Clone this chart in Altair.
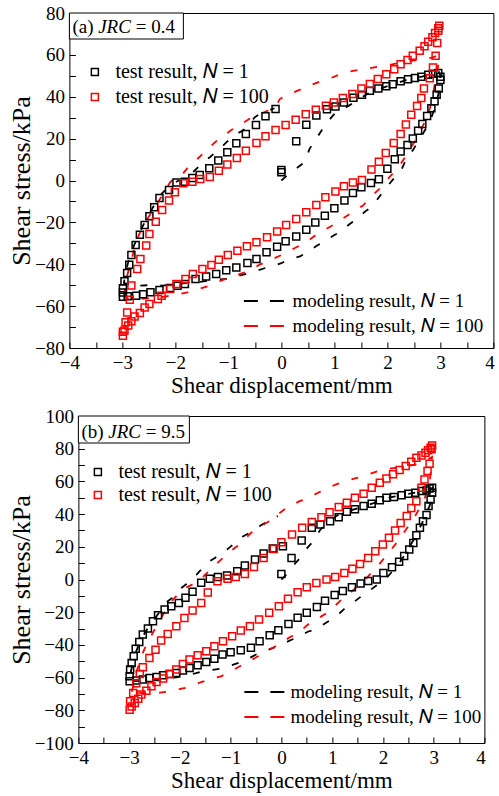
import altair as alt
import pandas as pd

FONT = "Liberation Serif"
BLACK = "#000000"
RED = "#ff0000"

# ---------------- data ----------------
TEST_LABELS = ["test result, 𝑁 = 1", "test result, 𝑁 = 100"]
MODEL_LABELS = ["modeling result, 𝑁 = 1", "modeling result, 𝑁 = 100"]

X_TICKS = [-4, -3.5, -3, -2.5, -2, -1.5, -1, -0.5, 0, 0.5, 1, 1.5, 2, 2.5, 3, 3.5, 4]
A_Y_TICKS = [-80, -70, -60, -50, -40, -30, -20, -10, 0, 10, 20, 30, 40, 50, 60, 70, 80]
B_Y_TICKS = [-100, -90, -80, -70, -60, -50, -40, -30, -20, -10, 0, 10, 20, 30, 40, 50, 60, 70, 80, 90, 100]

A_LABEL = ["(a)", "JRC", "= 0.4"]
B_LABEL = ["(b)", "JRC", "= 9.5"]

# panel (a) JRC = 0.4
A_TEST_N1 = [(0.00, 5.0), (0.00, 4.0), (0.28, 18.7), (0.47, 26.6), (0.66, 31.0), (0.86, 34.0), (1.02, 35.4),
             (1.18, 37.3), (1.36, 39.5), (1.52, 41.0), (1.67, 42.9), (1.83, 44.0), (1.98, 45.0), (2.10, 46.0),
             (2.25, 47.4), (2.39, 48.3), (2.52, 49.0), (2.64, 49.6), (2.77, 50.5), (2.86, 51.0), (2.96, 51.3),
             (3.00, 49.6), (3.00, 48.0), (2.97, 44.0), (2.93, 41.0), (2.89, 37.8), (2.83, 34.5), (2.75, 30.8),
             (2.66, 27.0), (2.58, 23.8), (2.48, 20.1), (2.38, 17.0), (2.25, 13.8), (2.14, 10.1), (2.00, 5.6),
             (1.84, 0.6), (1.69, -1.2), (1.51, -3.2), (1.35, -6.0), (1.19, -9.6), (1.00, -13.3), (0.82, -16.8),
             (0.64, -20.0), (0.47, -23.5), (0.28, -26.7), (0.08, -29.0), (-0.08, -31.6), (-0.28, -34.3),
             (-0.47, -37.5), (-0.64, -39.4), (-0.85, -41.5), (-1.04, -42.9), (-1.23, -44.7), (-1.42, -45.8),
             (-1.62, -47.0), (-1.82, -49.4), (-1.96, -50.3), (-2.10, -51.3), (-2.30, -52.3), (-2.47, -53.4),
             (-2.61, -54.3), (-2.74, -55.0), (-2.90, -55.3), (-2.99, -55.5), (-2.99, -53.5), (-2.99, -51.5),
             (-2.96, -48.1), (-2.91, -44.2), (-2.87, -40.2), (-2.83, -35.6), (-2.75, -30.8), (-2.67, -25.9),
             (-2.58, -21.2), (-2.49, -17.1), (-2.40, -12.8), (-2.30, -8.3), (-2.12, -4.5), (-1.98, -1.0),
             (-1.82, -0.6), (-1.68, 1.2), (-1.54, 2.6), (-1.36, 5.8), (-1.19, 9.6), (-1.02, 13.5), (-0.85, 17.8),
             (-0.67, 22.2), (-0.48, 26.5), (-0.30, 30.7), (-0.11, 34.1)]
A_TEST_N100 = [(0.08, 26.5), (0.27, 29.0), (0.46, 31.6), (0.65, 33.8), (0.84, 35.7), (0.99, 37.3), (1.16, 39.4),
               (1.34, 41.3), (1.51, 44.0), (1.67, 46.1), (1.82, 48.5), (1.98, 50.7), (2.13, 53.1), (2.25, 55.5),
               (2.38, 57.5), (2.48, 59.6), (2.61, 62.0), (2.70, 64.1), (2.77, 66.3), (2.85, 68.4), (2.90, 70.4),
               (2.96, 72.7), (2.98, 73.9), (2.96, 71.5), (2.94, 65.7), (2.91, 59.6), (2.86, 54.0), (2.80, 48.8),
               (2.69, 44.0), (2.64, 39.4), (2.56, 35.6), (2.45, 31.4), (2.35, 26.8), (2.25, 22.2), (2.12, 17.9),
               (1.97, 13.1), (1.84, 9.0), (1.70, 5.2), (1.52, 0.2), (1.35, -0.9), (1.18, -2.8), (1.02, -5.3),
               (0.83, -8.0), (0.66, -11.7), (0.47, -15.2), (0.28, -18.4), (0.09, -21.2), (-0.08, -24.4),
               (-0.27, -27.1), (-0.47, -29.5), (-0.65, -31.4), (-0.83, -33.5), (-1.01, -35.6), (-1.18, -37.8),
               (-1.32, -40.4), (-1.49, -42.3), (-1.67, -44.7), (-1.81, -47.0), (-1.98, -49.4), (-2.10, -51.8),
               (-2.26, -55.0), (-2.33, -56.6), (-2.49, -59.0), (-2.58, -60.6), (-2.67, -63.3), (-2.77, -65.0),
               (-2.83, -67.2), (-2.89, -69.3), (-2.96, -71.7), (-2.99, -74.1), (-2.99, -72.2), (-2.94, -67.7),
               (-2.91, -63.0), (-2.86, -56.9), (-2.83, -50.2), (-2.72, -42.3), (-2.66, -37.5), (-2.55, -31.1),
               (-2.49, -25.5), (-2.37, -19.7), (-2.25, -14.1), (-2.12, -9.6), (-2.01, -5.6), (-1.85, -1.3),
               (-1.68, -0.6), (-1.53, 0.7), (-1.35, 1.7), (-1.18, 4.7), (-1.02, 7.7), (-0.84, 10.7), (-0.67, 14.2),
               (-0.47, 17.9), (-0.30, 21.1), (-0.11, 24.1)]
A_MODEL_N1 = [(0.00, 0.0), (0.10, 2.3), (0.31, 6.3), (0.44, 8.7), (0.53, 15.0), (0.63, 19.0), (0.75, 23.5),
              (0.82, 26.5), (0.99, 31.5), (1.12, 33.5), (1.29, 36.0), (1.42, 38.0), (1.60, 41.0), (1.83, 43.5),
              (2.10, 46.0), (2.40, 48.3), (2.65, 49.6), (2.86, 51.0), (2.97, 52.0), (3.00, 50.0), (2.97, 42.0),
              (2.90, 35.0), (2.80, 28.0), (2.67, 22.3), (2.61, 20.0), (2.48, 14.4), (2.39, 12.0), (2.26, 4.9),
              (2.17, 2.5), (2.00, -2.8), (1.92, -5.3), (1.70, -12.8), (1.60, -14.4), (1.38, -19.2), (1.29, -20.8),
              (1.10, -24.7), (1.00, -26.0), (0.80, -29.5), (0.69, -30.8), (0.47, -34.6), (0.35, -36.2),
              (0.09, -38.3), (0.00, -39.5), (-0.28, -41.6), (-0.60, -44.2), (-0.85, -45.8), (-1.00, -47.0),
              (-1.17, -47.2), (-1.50, -48.3), (-1.90, -49.3), (-2.24, -50.2), (-2.42, -49.9), (-2.67, -50.2),
              (-2.86, -49.4), (-2.97, -49.0), (-2.95, -45.0), (-2.88, -38.0), (-2.78, -31.0), (-2.66, -24.0),
              (-2.52, -17.0), (-2.38, -11.0), (-2.25, -6.0), (-2.05, -1.5), (-1.76, 2.3), (-1.67, 3.9),
              (-1.48, 8.7), (-1.35, 11.1), (-1.13, 15.9), (-1.04, 18.2), (-0.85, 22.2), (-0.73, 23.8),
              (-0.50, 30.2), (-0.41, 31.8), (-0.25, 33.3), (-0.13, 34.5)]
A_MODEL_N100 = [(-2.95, -55.0), (-2.96, -50.0), (-2.85, -40.0), (-2.74, -29.5), (-2.68, -25.5), (-2.55, -19.2),
                (-2.49, -16.8), (-2.33, -10.4), (-2.27, -8.0), (-2.10, -0.9), (-2.04, 0.7), (-1.86, 3.2),
                (-1.77, 6.0), (-1.58, 10.4), (-1.48, 12.8), (-1.28, 17.6), (-1.17, 20.0), (-0.95, 24.0),
                (-0.85, 25.5), (-0.60, 29.5), (-0.47, 31.1), (-0.24, 33.5), (-0.11, 35.1), (-0.03, 38.9),
                (0.09, 40.5), (0.38, 43.7), (0.50, 45.0), (0.77, 47.7), (0.89, 48.5), (1.16, 51.2), (1.29, 52.0),
                (1.54, 53.2), (1.67, 53.7), (1.92, 54.8), (2.04, 55.2), (2.33, 56.7), (2.45, 57.2), (2.70, 58.0),
                (2.86, 58.8), (2.97, 60.0), (2.96, 55.0), (2.91, 48.6), (2.86, 40.7), (2.80, 34.3), (2.77, 31.9),
                (2.60, 22.0), (2.47, 16.8), (2.42, 14.4), (2.20, 6.0), (2.04, 1.7), (1.95, -1.7), (1.70, -7.5),
                (1.54, -12.0), (1.43, -13.5), (1.32, -15.5), (1.13, -18.7), (1.04, -20.3), (0.74, -24.7),
                (0.63, -26.4), (0.43, -30.3), (0.28, -31.9), (0.08, -34.6), (0.00, -35.6), (-0.28, -38.8),
                (-0.41, -40.2), (-0.67, -43.8), (-0.79, -44.7), (-1.01, -46.7), (-1.14, -47.8), (-1.39, -50.5),
                (-1.52, -51.5), (-1.77, -53.4), (-1.92, -54.2), (-2.17, -55.3), (-2.30, -55.8), (-2.55, -56.3),
                (-2.68, -56.6), (-2.90, -56.5), (-2.95, -55.0)]

# panel (b) JRC = 9.5
B_TEST_N1 = [(0.00, 3.4), (0.20, 13.2), (0.40, 23.9), (0.60, 31.6), (0.77, 33.7), (0.96, 35.7), (1.13, 38.1),
             (1.29, 41.4), (1.45, 42.9), (1.62, 44.9), (1.78, 46.3), (1.94, 48.4), (2.07, 50.0), (2.22, 50.4),
             (2.37, 51.6), (2.50, 52.4), (2.64, 53.0), (2.76, 54.1), (2.86, 54.5), (2.92, 55.7), (2.97, 56.1),
             (2.97, 53.0), (2.94, 49.0), (2.90, 44.9), (2.86, 39.4), (2.79, 35.7), (2.73, 31.6), (2.66, 27.1),
             (2.60, 22.4), (2.52, 18.4), (2.42, 14.3), (2.32, 10.8), (2.18, 7.5), (2.01, 4.0), (1.88, 0.0),
             (1.71, -0.9), (1.56, -2.5), (1.39, -4.7), (1.21, -7.0), (1.05, -9.5), (0.86, -13.0), (0.70, -16.8),
             (0.50, -20.3), (0.32, -23.4), (0.14, -27.2), (-0.06, -31.0), (-0.23, -34.1), (-0.43, -37.8),
             (-0.60, -41.8), (-0.80, -43.3), (-1.00, -44.5), (-1.16, -45.9), (-1.32, -48.4), (-1.48, -50.4),
             (-1.65, -52.5), (-1.81, -54.1), (-1.94, -55.7), (-2.07, -57.2), (-2.20, -57.8), (-2.33, -58.6),
             (-2.46, -59.6), (-2.60, -60.2), (-2.73, -61.2), (-2.86, -61.8), (-2.99, -62.3), (-2.99, -59.2),
             (-2.98, -55.1), (-2.95, -51.0), (-2.91, -47.0), (-2.87, -42.3), (-2.80, -38.2), (-2.73, -33.7),
             (-2.63, -30.0), (-2.53, -25.5), (-2.43, -21.9), (-2.30, -18.4), (-2.17, -16.3), (-2.02, -14.3),
             (-1.89, -11.2), (-1.75, -7.5), (-1.58, -2.0), (-1.41, 0.4), (-1.25, 1.6), (-1.07, 2.4), (-0.87, 5.1),
             (-0.72, 8.6), (-0.52, 12.2), (-0.35, 15.9), (-0.17, 19.0), (0.03, 20.4)]
B_TEST_N100 = [(0.21, 27.5), (0.41, 31.6), (0.60, 35.1), (0.79, 38.1), (0.95, 41.2), (1.13, 44.3), (1.29, 46.9),
               (1.45, 50.0), (1.62, 52.4), (1.78, 56.1), (1.94, 59.1), (2.07, 61.8), (2.20, 64.3), (2.33, 66.9),
               (2.45, 69.4), (2.56, 72.0), (2.66, 74.4), (2.76, 75.9), (2.84, 77.5), (2.89, 79.0), (2.94, 80.6),
               (2.97, 82.0), (2.96, 79.6), (2.92, 70.8), (2.88, 66.3), (2.82, 61.2), (2.76, 56.1), (2.66, 47.9),
               (2.56, 43.8), (2.47, 38.8), (2.35, 34.6), (2.24, 30.0), (2.12, 25.5), (2.00, 21.4), (1.85, 17.3),
               (1.71, 13.2), (1.55, 9.5), (1.40, 6.5), (1.24, 4.0), (1.06, 1.5), (0.89, 0.0), (0.69, -2.2),
               (0.50, -4.8), (0.32, -7.8), (0.13, -11.8), (-0.05, -16.3), (-0.24, -20.4), (-0.44, -24.5),
               (-0.62, -28.6), (-0.80, -31.2), (-0.97, -34.7), (-1.15, -37.8), (-1.32, -40.8), (-1.48, -43.9),
               (-1.65, -46.3), (-1.81, -49.0), (-1.94, -51.7), (-2.07, -55.1), (-2.20, -57.8), (-2.33, -60.6),
               (-2.46, -62.7), (-2.56, -65.3), (-2.66, -68.0), (-2.76, -70.4), (-2.82, -72.9), (-2.89, -75.5),
               (-2.95, -77.6), (-2.99, -79.6), (-2.98, -74.5), (-2.92, -69.4), (-2.86, -63.5), (-2.79, -57.8),
               (-2.73, -53.7), (-2.60, -48.0), (-2.48, -42.9), (-2.37, -37.3), (-2.24, -33.3), (-2.07, -28.6),
               (-1.91, -23.5), (-1.75, -19.0), (-1.58, -14.3), (-1.45, -8.0), (-1.26, -1.0), (-1.06, 0.4),
               (-0.90, 1.6), (-0.72, 3.4), (-0.54, 7.7), (-0.35, 13.2), (-0.15, 18.7), (0.00, 22.8)]
B_MODEL_N1 = [(0.00, 0.0), (0.07, 2.0), (0.28, 10.2), (0.34, 12.2), (0.51, 19.3), (0.60, 22.4), (0.77, 30.5),
              (0.83, 32.5), (1.08, 38.8), (1.21, 40.8), (1.50, 43.5), (1.80, 46.5), (2.10, 50.0), (2.40, 51.8),
              (2.70, 53.5), (2.90, 55.0), (2.98, 56.0), (2.97, 50.0), (2.92, 45.0), (2.85, 40.0), (2.75, 33.0),
              (2.60, 24.0), (2.45, 16.0), (2.30, 9.0), (2.10, 2.0), (1.90, -3.0), (1.67, -8.4), (1.57, -10.4),
              (1.34, -15.9), (1.24, -18.0), (1.04, -23.7), (0.92, -25.7), (0.66, -30.8), (0.53, -31.8),
              (0.30, -35.5), (0.19, -37.0), (-0.05, -40.5), (-0.31, -43.5), (-0.44, -44.9), (-0.72, -49.6),
              (-0.84, -51.0), (-1.06, -53.3), (-1.19, -54.5), (-1.55, -56.1), (-1.68, -57.2), (-1.94, -59.2),
              (-2.07, -59.8), (-2.40, -61.0), (-2.80, -62.0), (-2.99, -62.3), (-2.97, -57.0), (-2.92, -50.0),
              (-2.85, -43.0), (-2.75, -36.0), (-2.62, -29.0), (-2.45, -22.0), (-2.26, -13.9), (-2.16, -11.4),
              (-1.97, -5.2), (-1.87, -2.8), (-1.67, 3.0), (-1.61, 5.1), (-1.41, 11.2), (-1.31, 13.2), (-1.07, 18.4),
              (-0.99, 20.4), (-0.75, 26.5), (-0.63, 28.5), (-0.41, 33.0), (-0.30, 35.1), (-0.07, 38.8)]
B_MODEL_N100 = [(-2.95, -68.6), (-2.92, -65.5), (-2.85, -56.0), (-2.72, -44.1), (-2.66, -40.0), (-2.52, -31.8),
                (-2.46, -28.8), (-2.26, -17.6), (-2.20, -14.5), (-1.95, -6.0), (-1.77, -3.3), (-1.58, 0.0),
                (-1.52, 2.4), (-1.26, 10.2), (-1.15, 13.2), (-0.92, 19.3), (-0.82, 21.4), (-0.60, 28.5),
                (-0.50, 30.6), (-0.30, 34.6), (-0.17, 36.7), (-0.04, 40.5), (0.10, 43.8), (0.36, 47.9),
                (0.49, 49.3), (0.75, 53.5), (0.85, 55.0), (1.08, 58.2), (1.21, 59.6), (1.49, 62.2), (1.62, 63.2),
                (1.90, 66.3), (2.00, 67.3), (2.30, 68.5), (2.65, 70.4), (2.78, 71.4), (2.97, 75.0), (2.93, 62.0),
                (2.85, 52.0), (2.78, 45.9), (2.71, 42.9), (2.58, 35.7), (2.48, 31.6), (2.34, 25.5), (2.27, 22.4),
                (2.11, 16.3), (2.03, 13.2), (1.87, 7.1), (1.77, 4.0), (1.57, -2.9), (1.47, -4.9), (1.28, -10.4),
                (1.18, -12.5), (0.97, -18.6), (0.89, -20.6), (0.62, -25.7), (0.53, -27.4), (0.30, -33.5),
                (0.19, -34.9), (-0.10, -40.5), (-0.40, -46.0), (-0.70, -51.0), (-0.82, -53.1), (-1.06, -57.2),
                (-1.19, -59.2), (-1.42, -61.2), (-1.58, -62.7), (-1.84, -65.9), (-1.97, -66.8), (-2.23, -68.5),
                (-2.40, -69.2), (-2.75, -69.5), (-2.95, -68.6)]


def make_panel(test_sets, model_sets, width, height, ydom, yticks, label_parts, label_x, label_y,
               box_w, box_h, leg_test, leg_model):
    tdf = pd.DataFrame([{"x": x, "y": y, "series": lab}
                        for lab, pts in zip(TEST_LABELS, test_sets) for x, y in pts])
    mdf = pd.DataFrame([{"x": x, "y": y, "series": lab, "i": i}
                        for lab, pts in zip(MODEL_LABELS, model_sets) for i, (x, y) in enumerate(pts)])

    xaxis = alt.Axis(values=X_TICKS, labelExpr="datum.value % 1 === 0 ? format(datum.value, 'd') : ''",
                     grid=True, gridColor=BLACK, gridOpacity=1, gridWidth=1,
                     gridDash=[6, height - 6], gridDashOffset=6,
                     ticks=False, tickSize=0, domain=False, labelPadding=5, labelFlush=False,
                     labelOffset={"condition": {"test": "datum.value === 4", "value": -4}, "value": 0},
                     labelOverlap=False, titlePadding=2, titleFontSize=23)
    yaxis = alt.Axis(values=yticks, labelExpr="datum.value % 20 === 0 ? format(datum.value, 'd') : ''",
                     grid=True, gridColor=BLACK, gridOpacity=1, gridWidth=1,
                     gridDash=[6, width - 6],
                     ticks=False, tickSize=0, domain=False, labelPadding=5, labelFlush=False,
                     labelOverlap=False, titlePadding=0, titleFontSize=26)
    xs = alt.Scale(domain=[-4, 4], nice=False, zero=False)
    ys = alt.Scale(domain=ydom, nice=False, zero=False)
    xenc = alt.X("x:Q", scale=xs, axis=xaxis, title="Shear displacement/mm")
    yenc = alt.Y("y:Q", scale=ys, axis=yaxis, title="Shear stress/kPa")

    lines = alt.Chart(mdf).mark_line(strokeDash=[7, 13], strokeWidth=1.8).encode(
        x=xenc, y=yenc, order="i:Q",
        stroke=alt.Stroke("series:N", scale=alt.Scale(domain=MODEL_LABELS, range=[BLACK, RED]),
                          legend=alt.Legend(title=None, orient="none", legendX=leg_model[0],
                                            legendY=leg_model[1], symbolType="M-2,0H2", symbolSize=441,
                                            symbolStrokeWidth=1.8, symbolDash=[14, 12], labelFontSize=19,
                                            labelOffset=leg_model[2], rowPadding=leg_model[3], padding=0)),
    )
    points = alt.Chart(tdf).mark_point(shape="square", filled=False, size=49, strokeWidth=1.5, opacity=1).encode(
        x=xenc, y=yenc,
        color=alt.Color("series:N", scale=alt.Scale(domain=TEST_LABELS, range=[BLACK, RED]),
                        legend=alt.Legend(title=None, orient="none", legendX=leg_test[0], legendY=leg_test[1],
                                          symbolType="square", symbolSize=49, symbolStrokeWidth=1.5,
                                          labelOffset=leg_test[2], rowPadding=leg_test[3], padding=0)),
    )
    box = alt.Chart(pd.DataFrame({"t": [""]})).mark_rect(fill="white", stroke=BLACK, strokeWidth=1).encode(
        x=alt.value(0), x2=alt.value(box_w), y=alt.value(0), y2=alt.value(box_h))
    texts = []
    for part, px, style in zip(label_parts, label_x, ["normal", "italic", "normal"]):
        texts.append(alt.Chart(pd.DataFrame({"t": [part]})).mark_text(
            font=FONT, fontSize=19, fontStyle=style, align="left", baseline="alphabetic", color=BLACK).encode(
            text="t:N", x=alt.value(px), y=alt.value(label_y)))
    return alt.layer(lines, points, box, *texts).properties(width=width, height=height)


pa = make_panel([A_TEST_N1, A_TEST_N100], [A_MODEL_N1, A_MODEL_N100], 424, 335, [-80, 80], A_Y_TICKS,
                A_LABEL, [3, 28.8, 66.3], 20, 114, 26,
                leg_test=(15.5, 49, 10.5, 5), leg_model=(184, 276.5, 16, 3))
pb = make_panel([B_TEST_N1, B_TEST_N100], [B_MODEL_N1, B_MODEL_N100], 406, 327, [-100, 100], B_Y_TICKS,
                B_LABEL, [3, 29.9, 67.4], 22, 111, 27,
                leg_test=(9.5, 46, 10.5, 3), leg_model=(175.5, 264.5, 13.5, 3))

chart = alt.vconcat(pa, pb, spacing=8, center=True).resolve_scale(
    color="independent", stroke="independent", x="independent", y="independent"
).resolve_legend(color="independent", stroke="independent").properties(
    padding={"left": 7, "top": 3, "right": 0, "bottom": 0}
).configure(background="white").configure_view(stroke=BLACK, strokeWidth=1).configure_axis(
    labelFont=FONT, labelFontSize=19, labelColor=BLACK, titleFont=FONT, titleColor=BLACK,
    titleFontWeight="normal"
).configure_legend(labelFont=FONT, labelFontSize=20, labelColor=BLACK, labelLimit=500)

chart.save("out.html", embed_options={"renderer": "svg", "actions": False})
